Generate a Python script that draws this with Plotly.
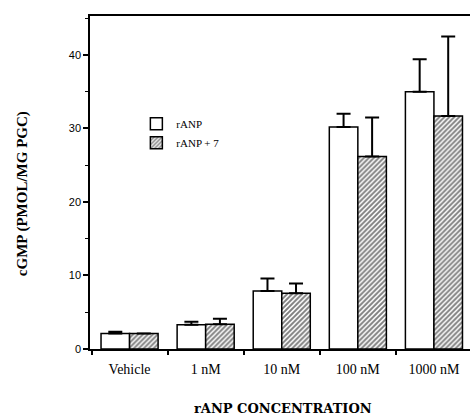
import plotly.graph_objects as go

categories = ["Vehicle", "1 nM", "10 nM", "100 nM", "1000 nM"]
ranp_values = [2.1, 3.3, 7.9, 30.2, 35.0]
ranp_err = [0.25, 0.4, 1.7, 1.8, 4.4]
ranp7_values = [2.1, 3.35, 7.6, 26.2, 31.7]
ranp7_err = [0.0, 0.75, 1.3, 5.3, 10.8]
series_names = ["rANP", "rANP + 7"]

fig = go.Figure()
fig.add_trace(go.Bar(
    x=categories, y=ranp_values, name=series_names[0],
    marker=dict(color="white", line=dict(color="black", width=1.5)),
    error_y=dict(type="data", array=ranp_err, arrayminus=[0]*5, symmetric=False,
                 color="black", thickness=2, width=7),
))
fig.add_trace(go.Bar(
    x=categories, y=ranp7_values, name=series_names[1],
    marker=dict(color="white", line=dict(color="black", width=1.5),
                pattern=dict(shape="/", fgcolor="black", bgcolor="white", size=3.5, solidity=0.55)),
    error_y=dict(type="data", array=ranp7_err, arrayminus=[0]*5, symmetric=False,
                 color="black", thickness=2, width=7),
))

fig.update_layout(
    width=470, height=418,
    margin=dict(l=90, r=0, t=16, b=69),
    paper_bgcolor="white", plot_bgcolor="white",
    barmode="group", bargap=0.25, bargroupgap=0,
    showlegend=True,
    legend=dict(x=0.122, y=0.72, xanchor="left", yanchor="top",
                font=dict(family="Liberation Serif", size=11, color="black"),
                bgcolor="rgba(0,0,0,0)", tracegroupgap=0),
    xaxis=dict(range=[-0.52, 4.474], showline=True, linecolor="black", linewidth=1.5,
               mirror=True, ticks="outside", tickson="boundaries", ticklen=4,
               tickwidth=1.5, tickcolor="black", showgrid=False, zeroline=False,
               ticklabelstandoff=6,
               tickfont=dict(family="Liberation Serif", size=14, color="black")),
    yaxis=dict(range=[0, 45.3], showline=True, linecolor="black", linewidth=1.5,
               ticks="outside", ticklen=5, tickwidth=1.5, tickcolor="black",
               dtick=10, tick0=0, showgrid=False, zeroline=False,
               minor=dict(dtick=5, ticks="outside", ticklen=3, tickwidth=1.2, tickcolor="black"),
               tickfont=dict(family="Liberation Sans, Arial", size=11, color="black")),
    annotations=[
        dict(text="cGMP (PMOL/MG PGC)", xref="paper", yref="paper",
             x=-0.179, y=0.468, textangle=-90, showarrow=False,
             xanchor="center", yanchor="middle",
             font=dict(family="Liberation Serif", size=15, color="black", weight="bold")),
        dict(text="rANP CONCENTRATION", xref="paper", yref="paper",
             x=0.509, y=-0.178, showarrow=False, xanchor="center", yanchor="middle",
             font=dict(family="DejaVu Serif", size=13, color="black", weight="bold")),
    ],
)

fig.write_html("out.html")
